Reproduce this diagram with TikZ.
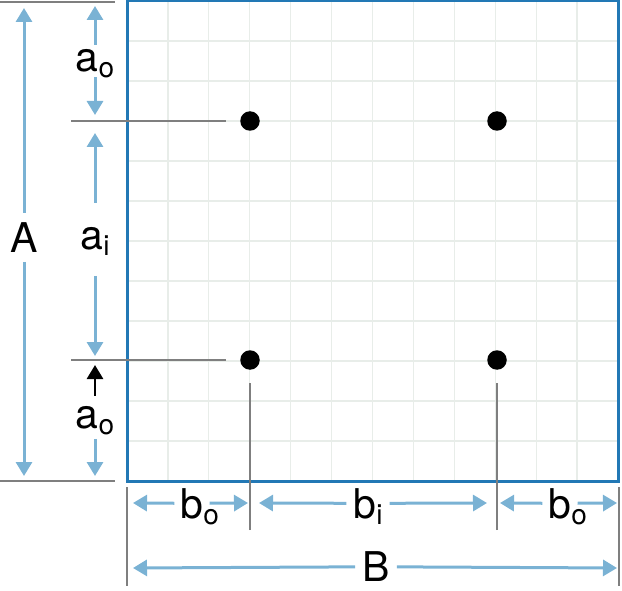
\documentclass[tikz,border=0pt]{standalone}
\usepackage{fontspec}
\setmainfont{TeX Gyre Heros}
\usetikzlibrary{arrows.meta}

\definecolor{dimblue}{HTML}{7AB2D4}
\definecolor{frameblue}{HTML}{2278B5}
\definecolor{gridgray}{HTML}{E8EDE9}
\definecolor{guidegray}{HTML}{7F7F7F}

% letter with a lowered subscript (no height/depth), \subr lets it overhang
\newcommand{\subl}[2]{#1\raisebox{-6pt}[0pt][0pt]{\fontsize{28}{28}\selectfont #2}}
\newcommand{\subr}[2]{#1\rlap{\raisebox{-6pt}[0pt][0pt]{\fontsize{28}{28}\selectfont #2}}}

\tikzset{
  gridline/.style={draw=gridgray, line width=1.3pt},
  frame/.style={draw=frameblue, line width=3pt},
  guide/.style={draw=guidegray, line width=2pt},
  thinguide/.style={draw=guidegray, line width=1.6pt},
  pin/.style={circle, fill=black, inner sep=0pt, minimum size=19.5pt},
  dim/.style={draw=dimblue, line width=3pt, -{Triangle[length=14pt,width=16pt]}},
  dimblack/.style={draw=black, line width=2.6pt, -{Triangle[length=14pt,width=16pt]}},
  lbl/.style={font=\fontsize{41}{41}\selectfont, anchor=base, inner sep=0pt},
}

\begin{document}
\begin{tikzpicture}[x=1pt,y=-1pt]
        \useasboundingbox (0,0) rectangle (622,591);
        % grid and plate
        \foreach \i in {1,...,11} {
            \draw[gridline] ({127+\i*40.92},1) -- ({127+\i*40.92},481);
            \draw[gridline] (127,{1+\i*40}) -- (618,{1+\i*40});
        }
        \draw[frame] (127,1) rectangle (618,481);

        % bolts
        \node[pin] (p11) at (250,121) {};
        \node[pin] (p12) at (497,121) {};
        \node[pin] (p21) at (250,360) {};
        \node[pin] (p22) at (497,360) {};

        % extension lines
        \draw[guide] (0,2) -- (115,2);
        \draw[guide] (0,481) -- (115,481);
        \coordinate (h1) at (71,121);
        \coordinate (h2) at (71,360);
        \draw[guide, shorten >=14.5pt] (h1) -- (p11);
        \draw[guide, shorten >=14.5pt] (h2) -- (p21);
        \coordinate (v1) at (250,530);
        \coordinate (v2) at (497,530);
        \draw[thinguide, shorten >=13.5pt] (v1) -- (p21);
        \draw[thinguide, shorten >=13.5pt] (v2) -- (p22);
        \draw[thinguide] (127,487) -- (127,586);
        \draw[thinguide] (619,487) -- (619,586);

        % vertical dimensions
        \node[lbl, inner ysep=9.5pt] (labA) at (24,252.3) {A};
        \coordinate (Atop) at (24,8);
        \coordinate (Abot) at (24,476);
        \draw[dim] (labA) -- (Atop);
        \draw[dim] (labA) -- (Abot);

        \node[lbl, inner ysep=4.5pt] (labao1) at (95,71.7) {\subl{a}{o}};
        \coordinate (ao1top) at (95,6);
        \coordinate (ao1bot) at (95,115);
        \draw[dim] (labao1) -- (ao1top);
        \draw[dim] (labao1) -- (ao1bot);

        \node[lbl, inner ysep=25pt] (labai) at (95,250) {\subl{a}{i}};
        \coordinate (aitop) at (95,133);
        \coordinate (aibot) at (95,356);
        \draw[dim] (labai) -- (aitop);
        \draw[dim] (labai) -- (aibot);

        \node[lbl, inner ysep=10pt] (labao2) at (95,428) {\subl{a}{o}};
        \coordinate (ao2top) at (95,365);
        \coordinate (ao2bot) at (95,476);
        \draw[dimblack] (labao2) -- (ao2top);
        \draw[dim] (labao2) -- (ao2bot);

        % horizontal dimensions
        \node[lbl, inner xsep=6pt] (labbo1) at (192,518) {\subr{b}{o}};
        \coordinate (bo1l) at (133,503);
        \coordinate (bo1r) at (248,503);
        \draw[dim] (labbo1) -- (bo1l);
        \draw[dim] (labbo1) -- (bo1r);

        \node[lbl, inner xsep=7pt] (labbi) at (368,518) {\subl{b}{i}};
        \coordinate (bil) at (259,503);
        \coordinate (bir) at (487,503);
        \draw[dim] (labbi) -- (bil);
        \draw[dim] (labbi) -- (bir);

        \node[lbl, inner xsep=6pt] (labbo2) at (560,518) {\subr{b}{o}};
        \coordinate (bo2l) at (500,503);
        \coordinate (bo2r) at (617,503);
        \draw[dim] (labbo2) -- (bo2l);
        \draw[dim] (labbo2) -- (bo2r);

        \node[lbl, inner xsep=7pt] (labB) at (376,581.7) {B};
        \coordinate (Bl) at (133,568);
        \coordinate (Br) at (617,568);
        \draw[dim] (labB) -- (Bl);
        \draw[dim] (labB) -- (Br);
    \end{tikzpicture}
\end{document}
